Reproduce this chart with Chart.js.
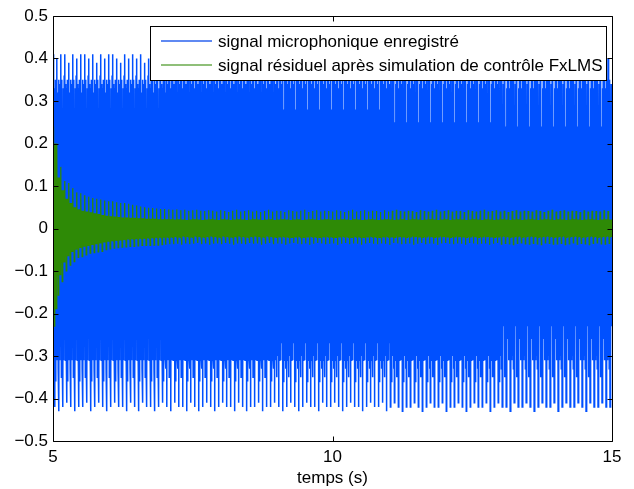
<!DOCTYPE html>
<html><head><meta charset="utf-8">
<script src="https://cdn.jsdelivr.net/npm/chart.js@4"></script>
<style>html,body{margin:0;padding:0;background:#fff;}#wrap{width:634px;height:489px;position:relative;}</style>
</head><body><div id="wrap"><canvas id="c" width="634" height="489"></canvas></div>
<script>
// ---------- data ----------
const seriesLabels = ['signal microphonique enregistré', 'signal résiduel après simulation de contrôle FxLMS'];
const xTickValues = [5, 10, 15];
const yTickValues = [-0.5, -0.4, -0.3, -0.2, -0.1, 0, 0.1, 0.2, 0.3, 0.4, 0.5];
const tStart = 5, tEnd = 15;
const xTitle = 'temps (s)';

// blue: tallest positive / negative peak of each period (140 periods over 10 s)
const blueTop = [
0.41,0.40,0.41,0.41,0.39,0.41,0.40,0.41,0.41,0.40,
0.41,0.39,0.41,0.40,0.41,0.41,0.40,0.39,0.41,0.40,
0.41,0.40,0.41,0.39,0.40,0.41,0.40,0.41,0.39,0.40,
0.41,0.40,0.39,0.41,0.40,0.41,0.40,0.39,0.41,0.40,
0.40,0.41,0.39,0.40,0.41,0.40,0.39,0.41,0.40,0.41,
0.39,0.40,0.41,0.40,0.39,0.41,0.40,0.40,0.41,0.39,
0.40,0.41,0.40,0.39,0.41,0.40,0.41,0.39,0.40,0.41,
0.40,0.39,0.41,0.40,0.41,0.40,0.39,0.41,0.40,0.39,
0.41,0.40,0.41,0.39,0.40,0.41,0.40,0.39,0.41,0.40,
0.41,0.39,0.40,0.41,0.40,0.41,0.39,0.40,0.41,0.40,
0.39,0.41,0.40,0.41,0.40,0.39,0.41,0.40,0.41,0.39,
0.40,0.41,0.40,0.39,0.41,0.40,0.41,0.40,0.39,0.41,
0.40,0.41,0.39,0.40,0.41,0.40,0.39,0.41,0.40,0.41,
0.40,0.39,0.41,0.40,0.41,0.40,0.39,0.41,0.40,0.40];
const blueBot = [
-0.42,-0.43,-0.42,-0.41,-0.42,-0.43,-0.42,-0.42,-0.41,-0.43,
-0.42,-0.41,-0.42,-0.43,-0.42,-0.41,-0.42,-0.42,-0.43,-0.41,
-0.42,-0.43,-0.41,-0.42,-0.42,-0.43,-0.42,-0.41,-0.42,-0.43,
-0.41,-0.42,-0.42,-0.43,-0.41,-0.42,-0.43,-0.42,-0.41,-0.42,
-0.43,-0.42,-0.41,-0.42,-0.42,-0.43,-0.41,-0.42,-0.43,-0.42,
-0.42,-0.41,-0.43,-0.42,-0.42,-0.41,-0.42,-0.43,-0.42,-0.41,
-0.42,-0.43,-0.42,-0.41,-0.42,-0.42,-0.43,-0.41,-0.42,-0.42,
-0.41,-0.42,-0.43,-0.42,-0.41,-0.42,-0.42,-0.43,-0.42,-0.41,
-0.42,-0.42,-0.41,-0.43,-0.42,-0.41,-0.42,-0.43,-0.42,-0.42,
-0.41,-0.42,-0.43,-0.42,-0.41,-0.42,-0.42,-0.41,-0.43,-0.42,
-0.42,-0.41,-0.42,-0.43,-0.42,-0.41,-0.42,-0.42,-0.41,-0.43,
-0.42,-0.41,-0.42,-0.42,-0.43,-0.41,-0.42,-0.42,-0.41,-0.42,
-0.43,-0.42,-0.41,-0.42,-0.42,-0.41,-0.43,-0.42,-0.41,-0.42,
-0.42,-0.41,-0.42,-0.43,-0.41,-0.42,-0.42,-0.41,-0.42,-0.42];
// blue: samples of three consecutive periods
// ('top' / 'bot' = that period's tall peak from the arrays above)
const blueCycles = [
  ['top', -0.31, 0.34, -0.27, 0.33, 'bot', 0.35, -0.36, 0.28, -0.31],
  ['top', -0.30, 0.32, -0.33, 0.35, 'bot', 0.25, -0.31, 0.34, -0.23],
  ['top', -0.35, 0.35, -0.30, 0.24, 'bot', 0.33, -0.31, 0.36, -0.26]
];

// green: largest positive / negative peak of each period
const greenTop = [
0.240,0.185,0.145,0.112,0.107,0.095,0.085,0.083,0.078,0.075,
0.072,0.070,0.068,0.066,0.064,0.064,0.062,0.060,0.060,0.058,
0.056,0.054,0.052,0.050,0.049,0.048,0.047,0.046,0.046,0.045,
0.044,0.045,0.043,0.044,0.042,0.043,0.044,0.042,0.041,0.043,
0.042,0.040,0.043,0.041,0.039,0.042,0.044,0.040,0.041,0.043,
0.040,0.042,0.039,0.041,0.044,0.040,0.042,0.041,0.039,0.043,
0.041,0.040,0.042,0.044,0.039,0.041,0.043,0.040,0.042,0.041,
0.040,0.043,0.041,0.039,0.042,0.044,0.040,0.041,0.043,0.040,
0.042,0.041,0.039,0.043,0.040,0.042,0.044,0.041,0.040,0.042,
0.041,0.039,0.043,0.041,0.040,0.042,0.044,0.040,0.041,0.043,
0.040,0.042,0.041,0.039,0.043,0.041,0.040,0.042,0.044,0.040,
0.041,0.043,0.040,0.042,0.039,0.041,0.043,0.040,0.042,0.041,
0.040,0.043,0.041,0.039,0.042,0.044,0.040,0.041,0.043,0.040,
0.042,0.041,0.039,0.043,0.040,0.042,0.041,0.040,0.043,0.041];
const greenBot = [
-0.230,-0.157,-0.125,-0.100,-0.086,-0.078,-0.068,-0.066,-0.062,-0.058,
-0.057,-0.055,-0.054,-0.050,-0.048,-0.046,-0.045,-0.044,-0.043,-0.042,
-0.042,-0.041,-0.040,-0.040,-0.040,-0.039,-0.039,-0.038,-0.038,-0.037,
-0.037,-0.036,-0.038,-0.035,-0.037,-0.036,-0.034,-0.037,-0.035,-0.038,
-0.036,-0.035,-0.037,-0.034,-0.036,-0.038,-0.035,-0.036,-0.037,-0.034,
-0.036,-0.035,-0.038,-0.036,-0.034,-0.037,-0.035,-0.036,-0.038,-0.035,
-0.034,-0.036,-0.037,-0.035,-0.038,-0.036,-0.034,-0.035,-0.037,-0.036,
-0.035,-0.038,-0.036,-0.034,-0.037,-0.035,-0.036,-0.038,-0.035,-0.034,
-0.036,-0.037,-0.035,-0.036,-0.038,-0.034,-0.035,-0.037,-0.036,-0.035,
-0.038,-0.036,-0.034,-0.037,-0.035,-0.036,-0.038,-0.035,-0.034,-0.036,
-0.037,-0.035,-0.036,-0.038,-0.034,-0.035,-0.037,-0.036,-0.035,-0.038,
-0.036,-0.034,-0.037,-0.035,-0.036,-0.038,-0.035,-0.034,-0.036,-0.037,
-0.035,-0.036,-0.038,-0.034,-0.035,-0.037,-0.036,-0.035,-0.038,-0.036,
-0.034,-0.037,-0.035,-0.036,-0.038,-0.035,-0.034,-0.036,-0.037,-0.035];
// green: the inner (dense core) extrema of each period
const greenCoreHi = [
0.200,0.120,0.090,0.070,0.060,0.050,0.045,0.042,0.040,0.038,
0.036,0.034,0.032,0.030,0.029,0.028,0.027,0.026,0.026,0.025,
0.025,0.024,0.024,0.023,0.023,0.023,0.022,0.022,0.022,0.022,
0.021,0.022,0.021,0.020,0.021,0.022,0.021,0.020,0.021,0.022,
0.021,0.020,0.022,0.021,0.020,0.021,0.022,0.021,0.020,0.021,
0.022,0.021,0.020,0.021,0.022,0.020,0.021,0.022,0.021,0.020,
0.021,0.022,0.020,0.021,0.022,0.021,0.020,0.021,0.022,0.021,
0.020,0.021,0.022,0.021,0.020,0.022,0.021,0.020,0.021,0.022,
0.021,0.020,0.021,0.022,0.021,0.020,0.021,0.022,0.020,0.021,
0.022,0.021,0.020,0.021,0.022,0.021,0.020,0.021,0.022,0.020,
0.021,0.022,0.021,0.020,0.021,0.022,0.021,0.020,0.022,0.021,
0.020,0.021,0.022,0.021,0.020,0.021,0.022,0.020,0.021,0.022,
0.021,0.020,0.021,0.022,0.021,0.020,0.022,0.021,0.020,0.021,
0.022,0.021,0.020,0.021,0.022,0.021,0.020,0.021,0.022,0.021];
const greenCoreLo = [
-0.190,-0.110,-0.080,-0.065,-0.055,-0.050,-0.046,-0.043,-0.041,-0.039,
-0.037,-0.035,-0.033,-0.031,-0.030,-0.029,-0.028,-0.027,-0.026,-0.025,
-0.025,-0.024,-0.024,-0.023,-0.023,-0.022,-0.022,-0.022,-0.021,-0.021,
-0.020,-0.021,-0.019,-0.020,-0.021,-0.019,-0.020,-0.021,-0.020,-0.019,
-0.020,-0.021,-0.019,-0.020,-0.021,-0.020,-0.019,-0.020,-0.021,-0.020,
-0.019,-0.020,-0.021,-0.019,-0.020,-0.021,-0.020,-0.019,-0.020,-0.021,
-0.020,-0.019,-0.021,-0.020,-0.019,-0.020,-0.021,-0.020,-0.019,-0.020,
-0.021,-0.020,-0.019,-0.020,-0.021,-0.019,-0.020,-0.021,-0.020,-0.019,
-0.020,-0.021,-0.020,-0.019,-0.020,-0.021,-0.019,-0.020,-0.021,-0.020,
-0.019,-0.020,-0.021,-0.020,-0.019,-0.021,-0.020,-0.019,-0.020,-0.021,
-0.020,-0.019,-0.020,-0.021,-0.020,-0.019,-0.021,-0.020,-0.019,-0.020,
-0.021,-0.020,-0.019,-0.020,-0.021,-0.020,-0.019,-0.021,-0.020,-0.019,
-0.020,-0.021,-0.020,-0.019,-0.020,-0.021,-0.020,-0.019,-0.021,-0.020,
-0.019,-0.020,-0.021,-0.020,-0.019,-0.020,-0.021,-0.020,-0.019,-0.020];
const greenCycle = ['top', 'lo', 'hi', 'bot', 'hi', 'lo', 'hi', 'lo', 'hi', 'lo'];

// ---------- build the point tables ----------
const nPer = blueTop.length;
const spp = blueCycles[0].length;
const dt = (tEnd - tStart) / (nPer * spp);
const blueData = [], greenData = [];
for (let i = 0; i < nPer; i++) {
  const cyc = blueCycles[i % blueCycles.length];
  for (let k = 0; k < spp; k++) {
    const t = tStart + (i * spp + k) * dt;
    const b = cyc[k];
    blueData.push({x: t, y: b === 'top' ? blueTop[i] : b === 'bot' ? blueBot[i] : b});
    const g = greenCycle[k];
    greenData.push({x: t, y: g === 'top' ? greenTop[i] : g === 'bot' ? greenBot[i] : g === 'hi' ? greenCoreHi[i] : greenCoreLo[i]});
  }
}

const FONT = "'Liberation Sans', Arial, Helvetica, sans-serif";
const FSIZE = 17;
const BLUE = '#0050ff', GREEN = '#2e8a06';
const LEGEND_BLUE = '#2a62ee', LEGEND_GREEN = '#6aaa4c';

const framePlugin = {
  id: 'frame',
  afterDatasetsDraw(chart) {
    const {ctx, chartArea: a, scales} = chart;
    ctx.save();
    ctx.strokeStyle = '#000'; ctx.lineWidth = 1;
    const L = Math.round(a.left) + 0.5, R = Math.round(a.right) + 0.5;
    const T = Math.round(a.top) + 0.5, B = Math.round(a.bottom) + 0.5;
    ctx.beginPath();
    ctx.rect(L, T, R - L, B - T);
    const tl = 5;
    yTickValues.forEach(v => {
      const y = Math.round(scales.y.getPixelForValue(v)) + 0.5;
      ctx.moveTo(L, y); ctx.lineTo(L + tl, y);
      ctx.moveTo(R, y); ctx.lineTo(R - tl, y);
    });
    xTickValues.forEach(v => {
      const x = Math.round(scales.x.getPixelForValue(v)) + 0.5;
      ctx.moveTo(x, B); ctx.lineTo(x, B - tl);
      ctx.moveTo(x, T); ctx.lineTo(x, T + tl);
    });
    ctx.stroke();
    ctx.restore();
  }
};

const legendPlugin = {
  id: 'boxLegend',
  afterDraw(chart) {
    const {ctx} = chart;
    const box = {x: 150.5, y: 26.5, w: 456, h: 54};
    const lineCols = [LEGEND_BLUE, LEGEND_GREEN];
    ctx.save();
    ctx.fillStyle = '#fff';
    ctx.fillRect(box.x, box.y, box.w, box.h);
    ctx.strokeStyle = '#000'; ctx.lineWidth = 1;
    ctx.strokeRect(box.x, box.y, box.w, box.h);
    const rows = [41, 65];
    chart.data.datasets.forEach((ds, i) => {
      const y = rows[i];
      ctx.strokeStyle = lineCols[i]; ctx.lineWidth = 1.4;
      ctx.beginPath(); ctx.moveTo(161, y); ctx.lineTo(212, y); ctx.stroke();
      ctx.fillStyle = '#000';
      ctx.font = FSIZE + 'px ' + FONT;
      ctx.textBaseline = 'middle'; ctx.textAlign = 'left';
      ctx.fillText(ds.label, 218, y + 1);
    });
    ctx.restore();
  }
};

const fmt = v => {
  const r = Math.round(v * 10) / 10;
  if (r === 0) return '0';
  return String(r).replace('-', '\u2212');
};

new Chart(document.getElementById('c'), {
  type: 'line',
  data: {
    datasets: [
      {label: seriesLabels[0], data: blueData, borderColor: BLUE, borderWidth: 1.5, pointRadius: 0, fill: false, order: 1},
      {label: seriesLabels[1], data: greenData, borderColor: GREEN, borderWidth: 1.2, pointRadius: 0, fill: false, order: 0}
    ]
  },
  options: {
    responsive: false, animation: false, devicePixelRatio: 1,
    parsing: false, normalized: true,
    layout: {padding: {top: 16, right: 22, left: 0, bottom: 0}},
    elements: {line: {tension: 0}},
    plugins: {legend: {display: false}, tooltip: {enabled: false}},
    scales: {
      x: {
        type: 'linear', min: tStart, max: tEnd,
        afterBuildTicks: s => { s.ticks = xTickValues.map(v => ({value: v})); },
        grid: {display: false, drawTicks: false}, border: {display: false},
        ticks: {padding: 6, color: '#000', font: {family: FONT, size: FSIZE}, maxRotation: 0, autoSkip: false,
                callback: v => String(v)},
        title: {display: true, text: xTitle, color: '#000', font: {family: FONT, size: FSIZE}, padding: {top: 0, bottom: 0}},
        afterFit: s => { s.height = 48; }
      },
      y: {
        type: 'linear', min: -0.5, max: 0.5,
        afterBuildTicks: s => { s.ticks = yTickValues.map(v => ({value: v})); },
        grid: {display: false, drawTicks: false}, border: {display: false},
        ticks: {padding: 5, color: '#000', font: {family: FONT, size: FSIZE}, autoSkip: false, callback: v => fmt(v)},
        afterFit: s => { s.width = 53; }
      }
    }
  },
  plugins: [framePlugin, legendPlugin]
});
</script></body></html>
